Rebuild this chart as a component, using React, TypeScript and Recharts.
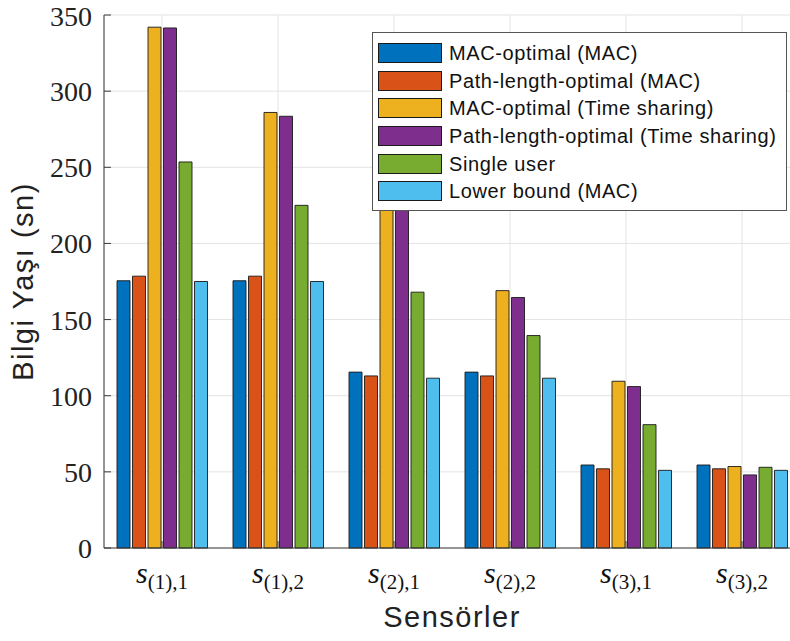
import { Bar, BarChart, CartesianGrid, Label, Legend, XAxis, YAxis } from "recharts";

const categories = ["(1),1", "(1),2", "(2),1", "(2),2", "(3),1", "(3),2"];

const macOptimalMac = [175.5, 175.5, 115.5, 115.5, 54.5, 54.5];
const pathLengthMac = [178.5, 178.5, 113, 113, 52, 52];
const macOptimalTs = [342, 286, 230, 169, 109.5, 53.5];
const pathLengthTs = [341.5, 283.5, 222, 164.5, 106, 48];
const singleUser = [253.5, 225, 168, 139.5, 81, 53];
const lowerBound = [175, 175, 111.5, 111.5, 51, 51];

const yTicks = [0, 50, 100, 150, 200, 250, 300, 350];

const series = [
  { key: "macMac", name: "MAC-optimal (MAC)", color: "#0072BD", values: macOptimalMac },
  { key: "pathMac", name: "Path-length-optimal (MAC)", color: "#D95319", values: pathLengthMac },
  { key: "macTs", name: "MAC-optimal (Time sharing)", color: "#EDB120", values: macOptimalTs },
  { key: "pathTs", name: "Path-length-optimal (Time sharing)", color: "#7E2F8E", values: pathLengthTs },
  { key: "single", name: "Single user", color: "#77AC30", values: singleUser },
  { key: "lower", name: "Lower bound (MAC)", color: "#4DBEEE", values: lowerBound }
];

const data = categories.map((cat, i) => {
  const row: Record<string, string | number> = { cat };
  series.forEach((s) => {
    row[s.key] = s.values[i];
  });
  return row;
});

const AXIS = "#3a3a3a";
const SANS = "'Liberation Sans', Arial, sans-serif";
const SERIF = "'Liberation Serif', 'Times New Roman', serif";

function SensorTick({ x, y, payload }: any) {
  return (
    <text x={x} y={y + 35} textAnchor="middle" fill="#111" fontFamily={SERIF}>
      <tspan fontSize={30} fontStyle="italic">s</tspan>
      <tspan fontSize={21} dy={6}>{payload.value}</tspan>
    </text>
  );
}

function LegendBox() {
  return (
    <div
      style={{
        width: 408,
        height: 171,
        background: "#fff",
        border: "1px solid #555",
        boxSizing: "content-box",
        paddingTop: 6,
        paddingLeft: 5,
        fontFamily: SANS,
        fontSize: 20,
        letterSpacing: 0.6,
        color: "#111",
        textAlign: "left"
      }}
    >
      {series.map((s) => (
        <div key={s.key} style={{ display: "flex", alignItems: "center", height: 27.7 }}>
          <div
            style={{
              width: 62,
              height: 18,
              background: s.color,
              border: "1px solid #1a1a1a",
              marginRight: 7,
              flex: "none"
            }}
          />
          <span style={{ whiteSpace: "nowrap", lineHeight: "20px" }}>{s.name}</span>
        </div>
      ))}
    </div>
  );
}

export default function App() {
  return (
    <div
      style={{
        position: "fixed",
        left: 0,
        top: 0,
        width: 790,
        height: 641,
        overflow: "hidden",
        background: "#fff"
      }}
    >
      <BarChart
        width={820}
        height={641}
        data={data}
        margin={{ top: 15, right: 20, bottom: 0, left: 0 }}
        barSize={13}
        barGap={2.5}
      >
        <CartesianGrid stroke="#e3e3e3" strokeWidth={1} />
        <XAxis
          dataKey="cat"
          height={93}
          stroke={AXIS}
          tickSize={-7}
          tickMargin={7}
          tick={<SensorTick />}
          interval={0}
        >
          <Label
            content={({ viewBox }: any) => (
              <text
                x={viewBox.x + viewBox.width / 2}
                y={viewBox.y + 79}
                textAnchor="middle"
                fontFamily={SANS}
                fontSize={29}
                letterSpacing={1.5}
                fill="#222"
              >
                Sensörler
              </text>
            )}
          />
        </XAxis>
        <XAxis
          xAxisId="top"
          dataKey="cat"
          orientation="top"
          height={0}
          stroke={AXIS}
          tickSize={-7}
          tick={false}
          interval={0}
        />
        <YAxis
          width={104}
          domain={[0, 350]}
          ticks={yTicks}
          stroke={AXIS}
          tickSize={-7}
          tickMargin={19}
          tick={{ fontFamily: SERIF, fontSize: 28, fill: "#222" }}
        >
          <Label
            content={({ viewBox }: any) => {
              const cx = 33;
              const cy = viewBox.y + viewBox.height / 2;
              return (
                <text
                  x={cx}
                  y={cy}
                  transform={`rotate(-90, ${cx}, ${cy})`}
                  textAnchor="middle"
                  fontFamily={SANS}
                  fontSize={29}
                  letterSpacing={1.5}
                  fill="#222"
                >
                  Bilgi Yaşı (sn)
                </text>
              );
            }}
          />
        </YAxis>
        {series.map((s) => (
          <Bar
            key={s.key}
            dataKey={s.key}
            name={s.name}
            fill={s.color}
            stroke="#1a1a1a"
            strokeWidth={0.9}
            isAnimationActive={false}
          />
        ))}
        <Legend
          layout="horizontal"
          verticalAlign="middle"
          align="center"
          content={() => <LegendBox />}
          wrapperStyle={{ position: "absolute", top: 32, left: 372, width: 414, height: 184, bottom: "auto", right: "auto" }}
        />
      </BarChart>
    </div>
  );
}
